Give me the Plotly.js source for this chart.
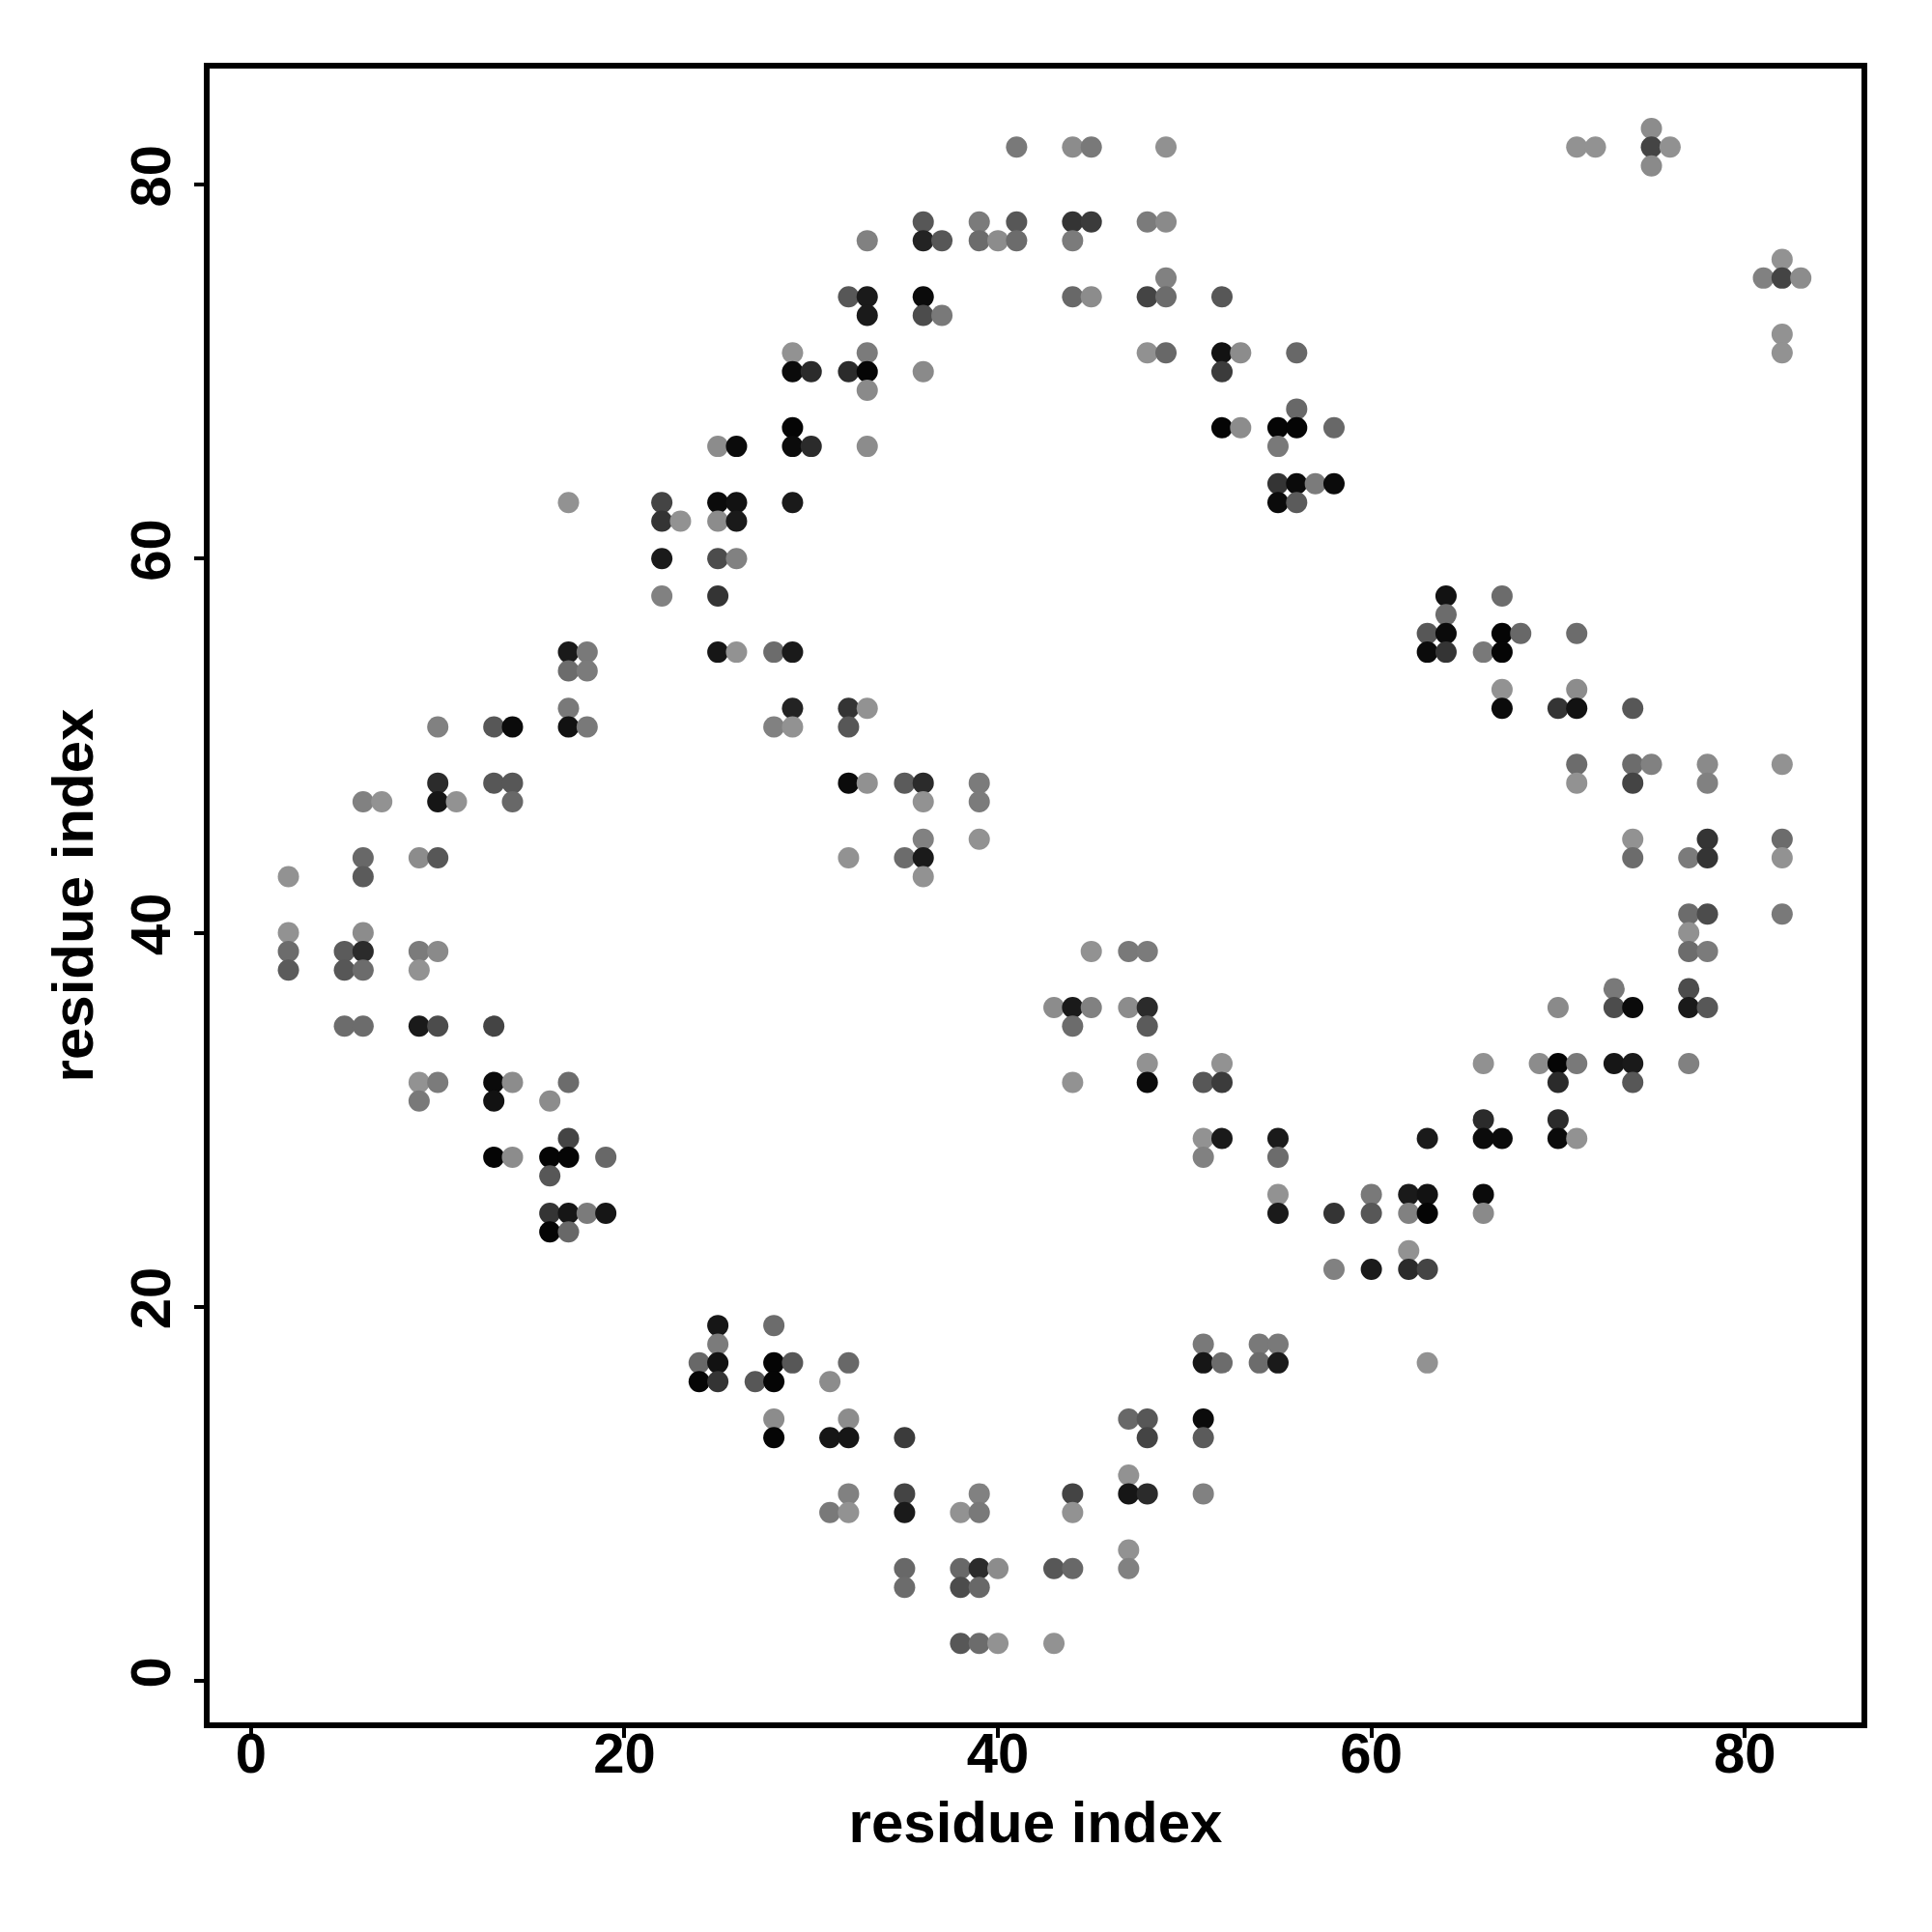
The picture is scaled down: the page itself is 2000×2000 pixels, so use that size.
<!DOCTYPE html>
<html>
<head>
<meta charset="utf-8">
<script src="https://cdn.plot.ly/plotly-3.0.1.min.js"></script>
<style>html,body{margin:0;padding:0;background:#fff;}#chart{width:2000px;height:2000px;}</style>
</head>
<body>
<div id="chart"></div>
<script>
// residue i (x), residue j (y), contact strength (0 = light grey, 1 = black)
const residueX = [
  2,2,2,2,
  5,5,5,
  6,6,6,6,6,6,6,
  7,
  9,9,9,9,9,9,
  10,10,10,10,10,10,10,
  11,
  13,13,13,13,13,13,
  14,14,14,14,14,
  16,16,16,16,16,
  17,17,17,17,17,17,17,17,17,17,
  18,18,18,18,
  19,19,
  22,22,22,22,
  23,
  24,24,
  25,25,25,25,25,25,25,25,25,25,
  26,26,26,26,26,
  27,
  28,28,28,28,28,28,28,
  29,29,29,29,29,29,29,29,29,
  30,30,
  31,31,31,
  32,32,32,32,32,32,32,32,32,32,32,
  33,33,33,33,33,33,33,33,33,
  35,35,35,35,35,35,35,
  36,36,36,36,36,36,36,36,36,36,
  37,37,
  38,38,38,38,
  39,39,39,39,39,39,39,39,39,39,
  40,40,40,
  41,41,41,
  43,43,43,
  44,44,44,44,44,44,44,44,44,44,
  45,45,45,45,45,
  47,47,47,47,47,47,47,
  48,48,48,48,48,48,48,48,48,48,48,
  49,49,49,49,49,
  51,51,51,51,51,51,51,51,
  52,52,52,52,52,52,52,52,
  53,53,
  54,54,
  55,55,55,55,55,55,55,55,55,55,
  56,56,56,56,56,
  57,
  58,58,58,58,
  60,60,60,
  62,62,62,62,
  63,63,63,63,63,63,63,
  64,64,64,64,
  66,66,66,66,66,66,
  67,67,67,67,67,67,
  68,
  69,
  70,70,70,70,70,70,
  71,71,71,71,71,71,71,71,
  72,
  73,73,73,
  74,74,74,74,74,74,74,74,
  75,75,75,75,
  76,
  77,77,77,77,77,77,77,
  78,78,78,78,78,78,78,
  81,
  82,82,82,82,82,82,82,82,
  83
];
const residueY = [
  43,40,39,38,
  39,38,35,
  47,44,43,40,39,38,35,
  47,
  44,39,38,35,32,31,
  51,48,47,44,39,35,32,
  47,
  51,48,35,32,31,28,
  51,48,47,32,28,
  31,28,27,25,24,
  63,55,54,52,51,32,29,28,25,24,
  55,54,51,25,
  28,25,
  63,62,60,58,
  62,
  17,16,
  66,63,62,60,58,55,19,18,17,16,
  66,63,62,60,55,
  16,
  55,51,19,17,16,14,13,
  71,70,67,66,63,55,52,51,17,
  70,66,
  16,13,9,
  74,70,52,51,48,44,17,14,13,10,9,
  77,74,73,71,70,69,66,52,48,
  48,44,13,10,9,6,5,
  78,77,74,73,70,48,47,45,44,43,
  77,73,
  9,6,5,2,
  78,77,48,47,45,10,9,6,5,2,
  77,6,2,
  82,78,77,
  36,6,2,
  82,78,77,74,36,35,32,10,9,6,
  82,78,74,39,36,
  39,36,14,11,10,7,6,
  78,74,71,39,36,35,33,32,14,13,10,
  82,78,75,74,71,
  32,29,28,18,17,14,13,10,
  74,71,70,67,33,32,29,17,
  71,67,
  18,17,
  67,66,64,63,29,28,26,25,18,17,
  71,68,67,64,63,
  64,
  67,64,25,22,
  26,25,22,
  26,25,23,22,
  56,55,29,26,25,22,17,
  58,57,56,55,
  55,33,30,29,26,25,
  58,56,55,53,52,29,
  56,
  33,
  52,36,33,32,30,29,
  82,56,53,52,49,48,33,29,
  82,
  37,36,33,
  52,49,48,45,44,36,33,32,
  83,82,81,49,
  82,
  44,41,40,39,37,36,33,
  49,48,45,44,41,39,36,
  75,
  76,75,72,71,49,45,44,41,
  75
];
const contactStrength = [
  0.00,0.00,0.27,0.39,
  0.39,0.42,0.27,
  0.12,0.30,0.39,0.04,0.73,0.27,0.27,
  0.00,
  0.04,0.16,0.00,0.85,0.00,0.18,
  0.12,0.73,0.88,0.42,0.06,0.50,0.16,
  0.00,
  0.42,0.42,0.55,0.96,0.91,1.00,
  0.96,0.42,0.30,0.04,0.04,
  0.04,1.00,0.42,0.67,1.00,
  0.00,0.85,0.27,0.18,0.91,0.27,0.55,1.00,0.88,0.30,
  0.18,0.16,0.18,0.16,
  0.30,0.88,
  0.55,0.67,0.85,0.12,
  0.00,
  0.30,1.00,
  0.04,0.96,0.04,0.50,0.67,0.88,0.88,0.16,0.91,0.67,
  0.96,0.91,0.85,0.12,0.00,
  0.42,
  0.27,0.12,0.27,1.00,1.00,0.04,1.00,
  0.00,0.96,1.00,0.96,0.85,0.85,0.79,0.00,0.42,
  0.73,0.73,
  0.04,0.88,0.18,
  0.42,0.73,0.67,0.42,0.96,0.00,0.30,0.04,0.88,0.12,0.00,
  0.12,0.85,0.85,0.16,1.00,0.06,0.04,0.00,0.01,
  0.39,0.27,0.62,0.55,0.85,0.30,0.27,
  0.42,0.79,0.96,0.50,0.06,0.73,0.00,0.12,0.85,0.00,
  0.42,0.18,
  0.00,0.30,0.50,0.42,
  0.16,0.27,0.16,0.16,0.00,0.12,0.18,0.73,0.30,0.27,
  0.04,0.04,0.00,
  0.18,0.42,0.27,
  0.04,0.42,0.00,
  0.04,0.67,0.16,0.30,0.85,0.27,0.00,0.55,0.00,0.30,
  0.18,0.62,0.04,0.00,0.12,
  0.18,0.04,0.30,0.00,0.88,0.00,0.12,
  0.16,0.55,0.01,0.16,0.73,0.39,0.00,0.96,0.42,0.55,0.73,
  0.01,0.06,0.12,0.27,0.30,
  0.42,0.00,0.12,0.18,0.88,0.96,0.39,0.12,
  0.42,0.91,0.62,1.00,0.00,0.62,0.85,0.27,
  0.04,0.04,
  0.18,0.27,
  1.00,0.18,0.67,0.96,0.85,0.27,0.00,0.85,0.18,0.85,
  0.30,0.30,1.00,0.96,0.39,
  0.16,
  0.30,0.96,0.67,0.12,
  0.18,0.42,0.85,
  0.85,0.12,0.00,0.73,
  0.42,0.96,0.85,0.91,1.00,0.55,0.00,
  0.91,0.27,0.96,0.67,
  0.18,0.01,0.73,0.96,0.96,0.06,
  0.27,1.00,1.00,0.00,0.96,0.96,
  0.30,
  0.04,
  0.67,0.06,1.00,0.73,0.73,0.96,
  0.00,0.27,0.04,0.91,0.27,0.00,0.18,0.00,
  0.00,
  0.18,0.50,0.88,
  0.42,0.27,0.55,0.00,0.27,0.96,0.85,0.42,
  0.04,0.55,0.06,0.12,
  0.01,
  0.16,0.27,0.01,0.27,0.50,0.85,0.12,
  0.06,0.12,0.67,0.67,0.50,0.16,0.42,
  0.12,
  0.00,0.55,0.00,0.00,0.00,0.27,0.00,0.18,
  0.04
];

const xTicks = [0, 20, 40, 60, 80];
const yTicks = [0, 20, 40, 60, 80];

const fontFamily = 'Liberation Sans, Arial, Helvetica, sans-serif';

const trace = {
  type: 'scatter',
  mode: 'markers',
  x: residueX,
  y: residueY,
  marker: {
    size: 22,
    color: contactStrength,
    cmin: 0,
    cmax: 1,
    colorscale: [[0, 'rgb(146,146,146)'], [1, 'rgb(5,5,5)']],
    showscale: false,
    line: {width: 0}
  },
  hoverinfo: 'x+y'
};

const axisCommon = {
  showgrid: false,
  zeroline: false,
  showline: true,
  linecolor: '#000',
  linewidth: 6,
  mirror: true,
  ticks: 'outside',
  ticklen: 10,
  tickwidth: 4,
  tickcolor: '#000',
  tickfont: {family: fontFamily, size: 58, color: '#000', weight: 'bold'},
  autorange: false
};

const layout = {
  width: 2000,
  height: 2000,
  margin: {l: 217, r: 73, t: 71, b: 217, pad: 0},
  paper_bgcolor: '#fff',
  plot_bgcolor: '#fff',
  showlegend: false,
  font: {family: fontFamily, color: '#000'},
  xaxis: Object.assign({}, axisCommon, {
    range: [-2.22, 86.25],
    tickmode: 'array',
    tickvals: xTicks,
    ticktext: xTicks.map(String),
    ticklabelstandoff: -34,
    automargin: false,
    title: {text: 'residue index', font: {family: fontFamily, size: 60, color: '#000', weight: 'bold'}, standoff: 21}
  }),
  yaxis: Object.assign({}, axisCommon, {
    range: [-2.22, 86.2],
    tickmode: 'array',
    tickvals: yTicks,
    ticktext: yTicks.map(String),
    tickangle: -90,
    ticklabelstandoff: 2,
    automargin: false,
    title: {text: 'residue index', font: {family: fontFamily, size: 60, color: '#000', weight: 'bold'}, standoff: 9}
  })
};

Plotly.newPlot('chart', [trace], layout, {staticPlot: true, displayModeBar: false});
</script>
</body>
</html>
